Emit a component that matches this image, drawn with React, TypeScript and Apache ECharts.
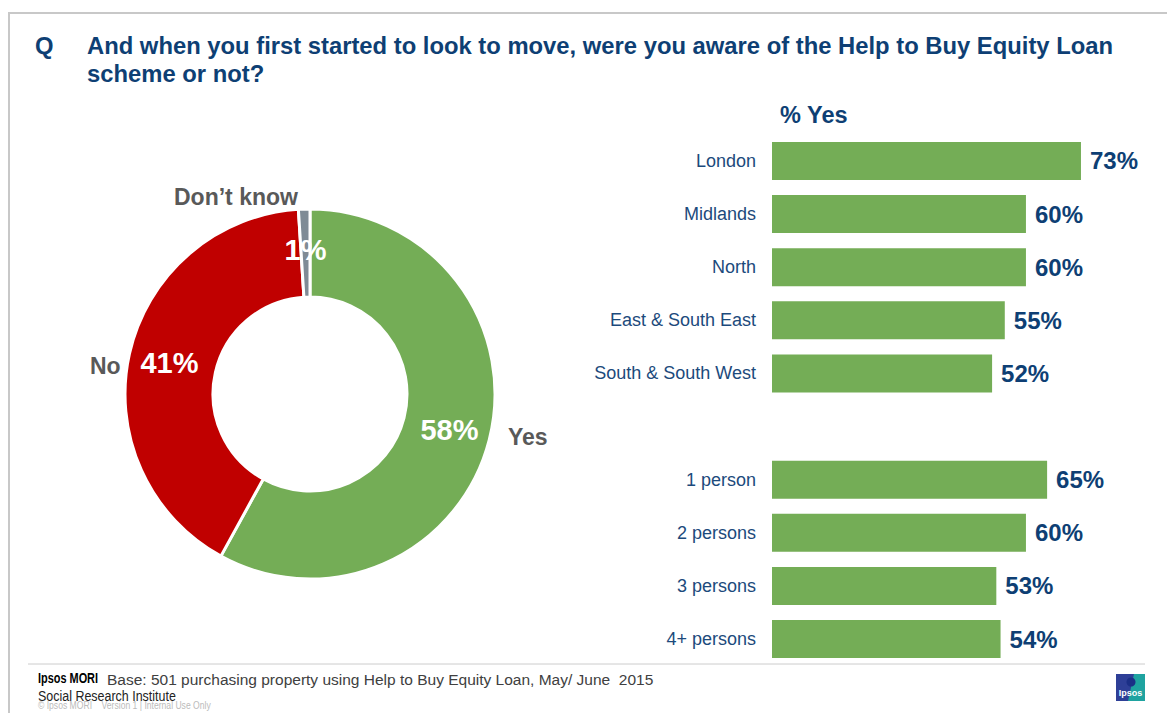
import React, { useEffect, useRef } from "react";
import * as echarts from "echarts";

const pieNames = ["Yes", "No", "Don\u2019t know"];
const pieValues = [58, 41, 1];
const pieColors = ["#74AD56", "#C00000", "#7F8B96"];

const barCategories = [
  "London",
  "Midlands",
  "North",
  "East & South East",
  "South & South West",
  "",
  "1 person",
  "2 persons",
  "3 persons",
  "4+ persons",
];
const barValues: (number | null)[] = [73, 60, 60, 55, 52, null, 65, 60, 53, 54];

const titleLine1 = "And when you first started to look to move, were you aware of the Help to Buy Equity Loan";
const titleLine2 = "scheme or not?";
const footerBase = "Base: 501 purchasing property using Help to Buy Equity Loan, May/ June  2015";

const FONT = "'Liberation Sans', Arial, sans-serif";
const DARK_BLUE = "#0E3F74";
const LABEL_BLUE = "#1C4A7C";
const GRAY_TEXT = "#595959";

// small nudges of the outside name labels, to match the original placement
const nameNudges = [
  { dx: -2, dy: -5 },
  { dx: 12, dy: 14 },
  { dx: 7, dy: -4 },
];

export default function App() {
  const ref = useRef<HTMLDivElement>(null);
  useEffect(() => {
    if (!ref.current) return;
    const chart = echarts.init(ref.current, undefined, { renderer: "svg" });
    const pieData = pieNames.map((n, i) => ({
      name: n,
      value: pieValues[i],
      itemStyle: { color: pieColors[i] },
    }));
    const ghostData = pieNames.map((n, i) => ({
      name: n,
      value: pieValues[i],
      itemStyle: { color: "rgba(255,255,255,0)" },
    }));
    const titleStyle = { fontSize: 23.8, fontWeight: "bold", fontFamily: FONT, fill: DARK_BLUE, textVerticalAlign: "middle" };
    chart.setOption({
      animation: false,
      backgroundColor: "#ffffff",
      textStyle: { fontFamily: FONT },
      grid: { left: 772, top: 134.4, width: 338.6, height: 531.2, containLabel: false },
      xAxis: { type: "value", min: 0, max: 80, show: false },
      yAxis: {
        type: "category",
        data: barCategories,
        inverse: true,
        axisLine: { show: false },
        axisTick: { show: false },
        splitLine: { show: false },
        axisLabel: { margin: 16, fontSize: 18, color: LABEL_BLUE, fontFamily: FONT },
      },
      series: [
        {
          type: "bar",
          data: barValues,
          barWidth: 38,
          itemStyle: { color: "#74AD56" },
          label: {
            show: true,
            position: "right",
            distance: 9,
            formatter: (p: any) => (p.value == null ? "" : p.value + "%"),
            fontSize: 24,
            fontWeight: "bold",
            color: DARK_BLUE,
            fontFamily: FONT,
          },
        },
        {
          type: "pie",
          center: [310, 394],
          radius: [97, 185],
          startAngle: 90,
          clockwise: true,
          data: pieData,
          itemStyle: { borderColor: "#ffffff", borderWidth: 3 },
          label: {
            show: true,
            position: "inside",
            formatter: "{c}%",
            fontSize: 29,
            fontWeight: "bold",
            color: "#ffffff",
            fontFamily: FONT,
          },
          labelLine: { show: false },
          emphasis: { disabled: true },
          z: 3,
        },
        {
          type: "pie",
          center: [310, 394],
          radius: [97, 185],
          startAngle: 90,
          clockwise: true,
          data: ghostData,
          label: {
            show: true,
            position: "outside",
            formatter: "{b}",
            fontSize: 23,
            fontWeight: "bold",
            color: GRAY_TEXT,
            fontFamily: FONT,
          },
          labelLine: { show: false, length: 8, length2: 8 },
          labelLayout: (p: any) => nameNudges[p.dataIndex] || {},
          emphasis: { disabled: true },
          silent: true,
          z: 4,
        },
      ],
      graphic: [
        { type: "line", shape: { x1: 8, y1: 13, x2: 1167, y2: 13 }, style: { stroke: "#C8C8C8", lineWidth: 2 } },
        { type: "line", shape: { x1: 9, y1: 13, x2: 9, y2: 713 }, style: { stroke: "#C8C8C8", lineWidth: 2 } },
        { type: "text", x: 35, y: 45, style: { ...titleStyle, text: "Q" } },
        { type: "text", x: 87, y: 45, style: { ...titleStyle, text: titleLine1 } },
        { type: "text", x: 87, y: 73, style: { ...titleStyle, text: titleLine2 } },
        { type: "text", x: 780, y: 115, style: { text: "% Yes", fontSize: 23.5, fontWeight: "bold", fontFamily: FONT, fill: DARK_BLUE, textVerticalAlign: "middle" } },
        { type: "line", shape: { x1: 28, y1: 664, x2: 1145, y2: 664 }, style: { stroke: "#CCCCCC", lineWidth: 1 } },
        { type: "text", x: 38, y: 679, scaleX: 0.78, originX: 0, originY: 0, style: { text: "Ipsos MORI", font: `bold 14px ${FONT}`, fill: "#000000", textVerticalAlign: "middle" } },
        { type: "text", x: 107, y: 679, style: { text: footerBase, font: `15.5px ${FONT}`, fill: "#404040", textVerticalAlign: "middle" } },
        { type: "text", x: 38, y: 696, scaleX: 0.86, originX: 0, originY: 0, style: { text: "Social Research Institute", font: `14.5px ${FONT}`, fill: "#222222", textVerticalAlign: "middle" } },
        { type: "text", x: 38, y: 706, scaleX: 0.86, originX: 0, originY: 0, style: { text: "\u00A9 Ipsos MORI    Version 1 | Internal Use Only", font: `10px ${FONT}`, fill: "#BBBBBB", textVerticalAlign: "middle" } },
        { type: "rect", shape: { x: 1116, y: 674, width: 29, height: 27 }, style: { fill: "#1FA3A0" } },
        { type: "polygon", shape: { points: [[1116, 674], [1134, 674], [1128, 701], [1116, 701]] }, style: { fill: "#2E3F97" } },
        { type: "circle", shape: { cx: 1131, cy: 682, r: 4.5 }, style: { fill: "#1B2F86" } },
        { type: "text", x: 1130.5, y: 693, style: { text: "Ipsos", font: `bold 9px ${FONT}`, fill: "#ffffff", textAlign: "center", textVerticalAlign: "middle" } },
      ],
    });
    return () => chart.dispose();
  }, []);
  return (
    <div
      ref={ref}
      style={{ position: "fixed", left: 0, top: 0, width: 1167, height: 713, background: "#fff" }}
    />
  );
}
